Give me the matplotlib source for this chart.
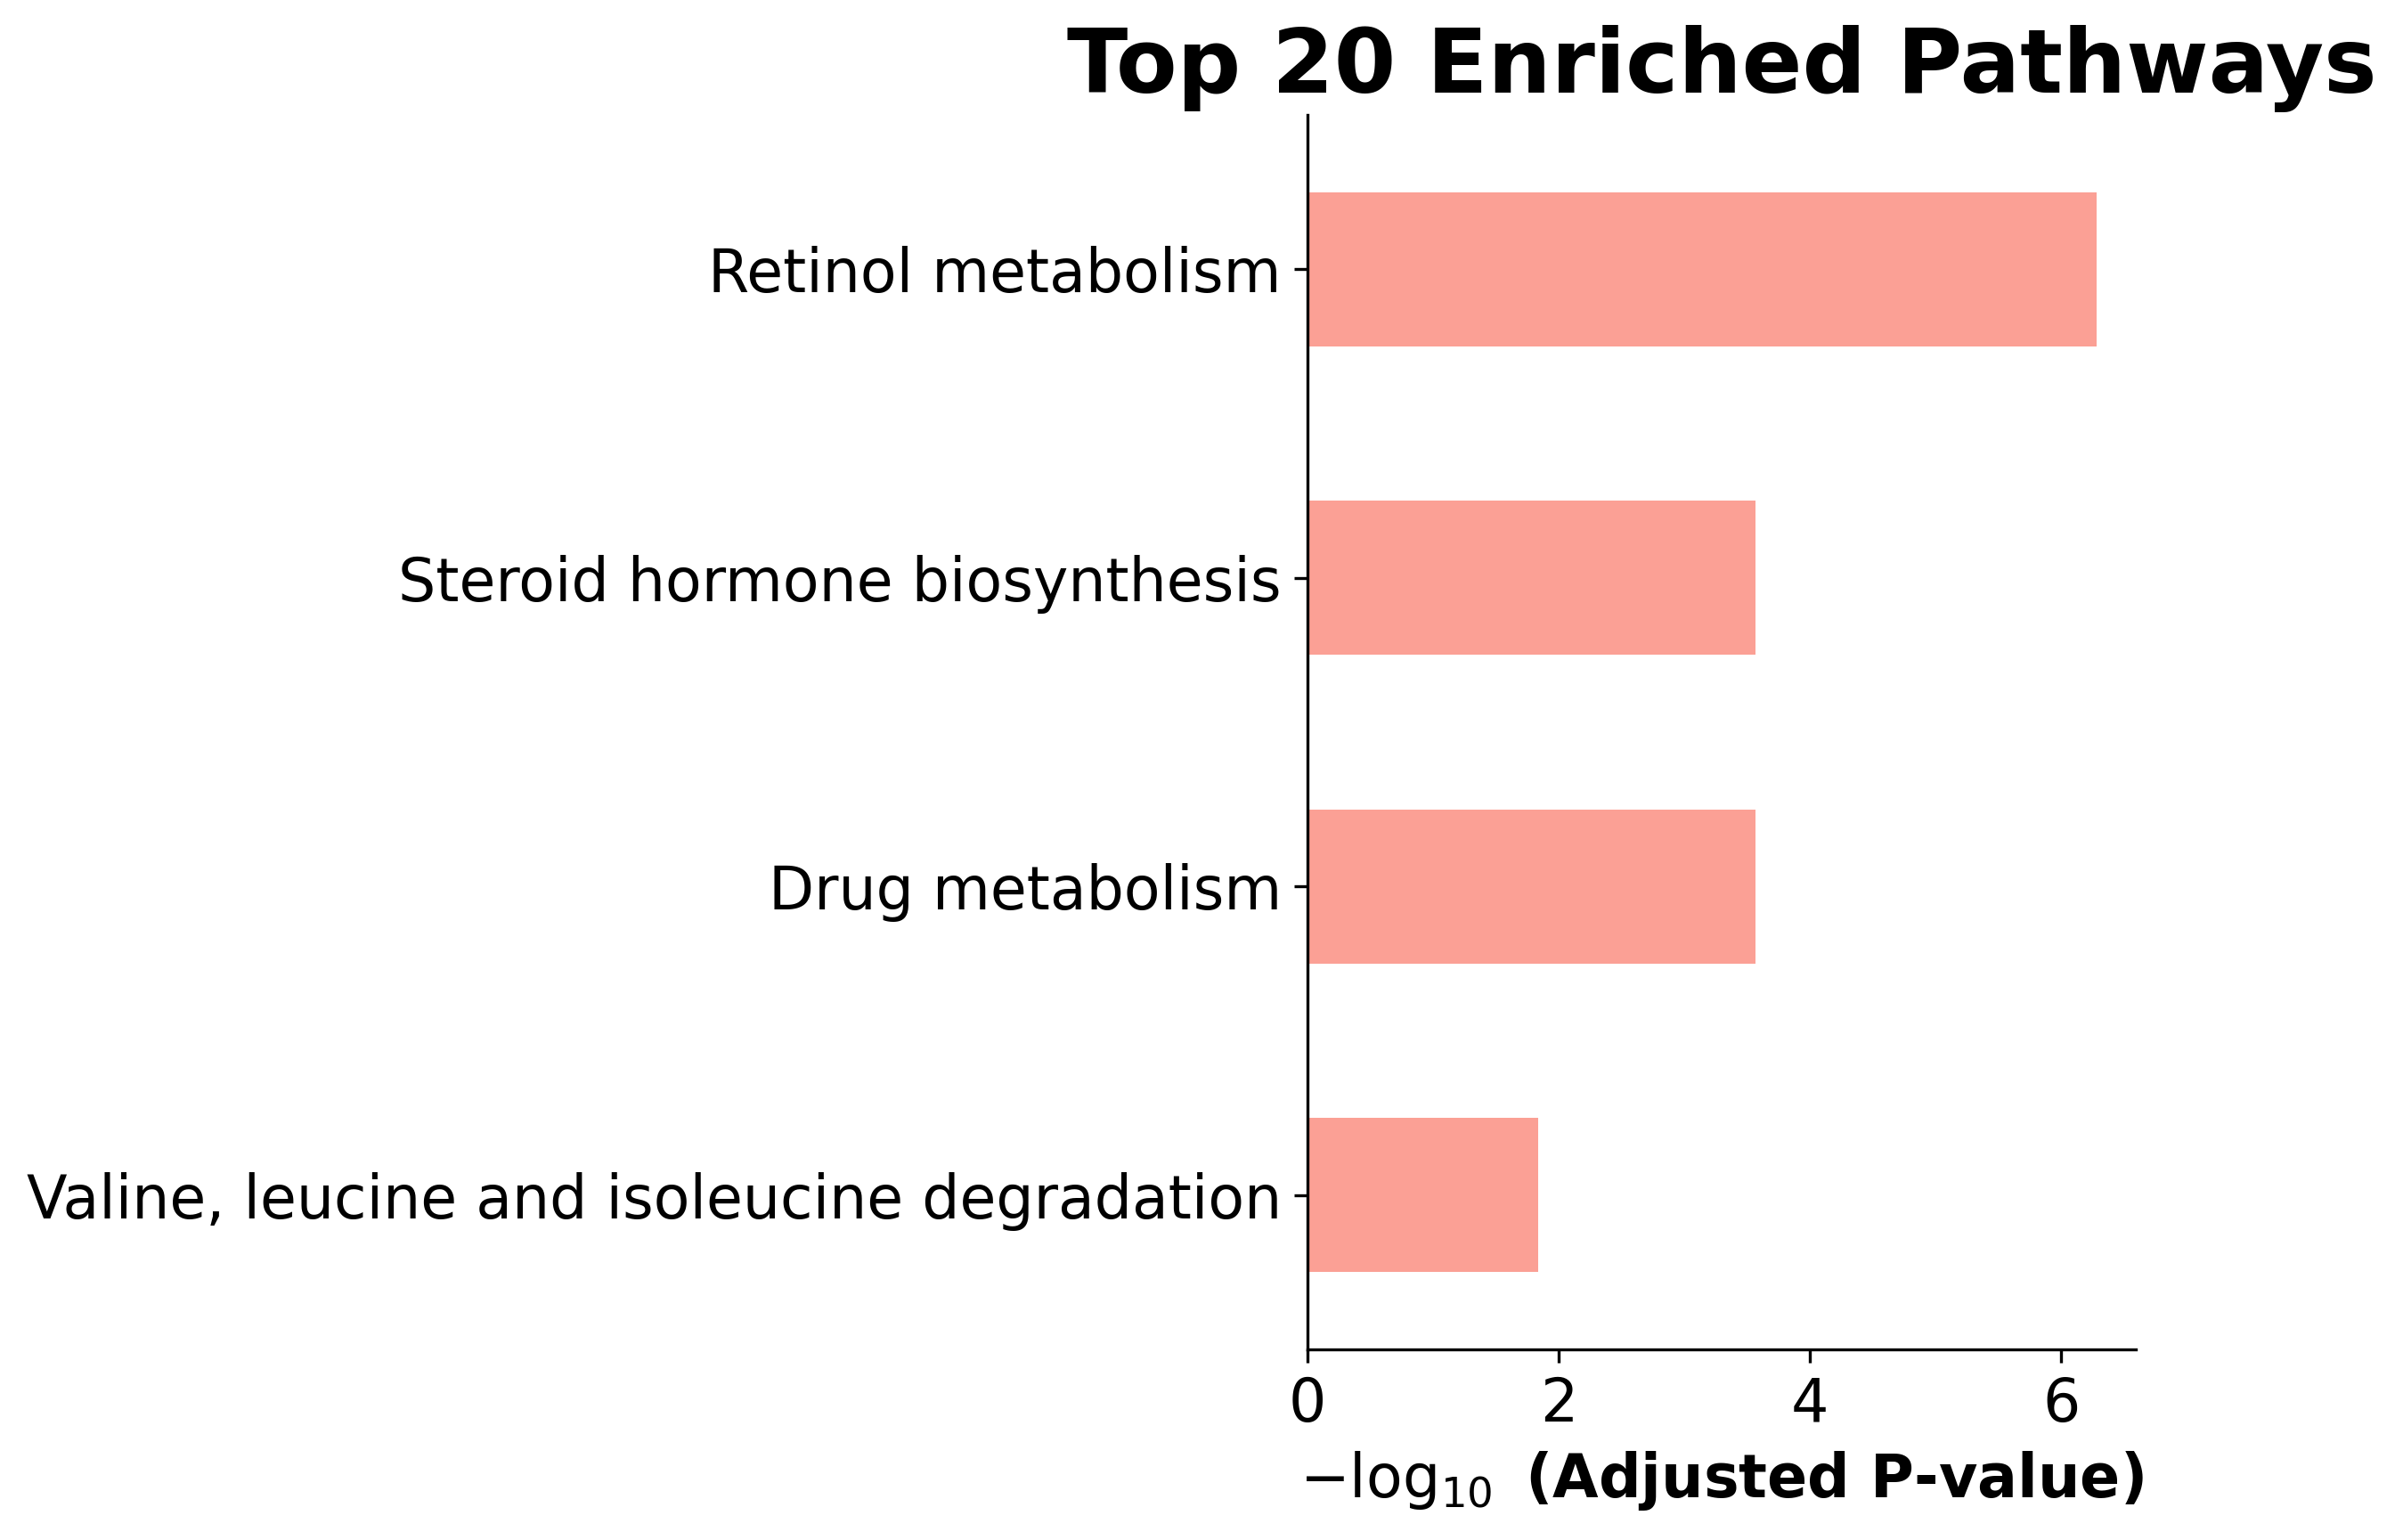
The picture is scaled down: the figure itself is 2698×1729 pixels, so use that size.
import numpy as np
import matplotlib.pyplot as plt

# pathways, bottom to top (plotted in order, so the largest ends on top)
pathways = [
    "Valine, leucine and isoleucine degradation",
    "Drug metabolism",
    "Steroid hormone biosynthesis",
    "Retinol metabolism",
]
neg_log_p = [1.84, 3.57, 3.57, 6.28]

fig = plt.figure(figsize=(2698 / 300, 1729 / 300), dpi=300)
ax = fig.add_axes([0.5441, 0.1238, 0.3447, 0.8016])

pos = np.arange(len(pathways))
ax.barh(pos, neg_log_p, height=0.5, color="salmon", alpha=0.75)

ax.set_yticks(pos)
ax.set_yticklabels(pathways)
ax.set_ylim(-0.5, len(pathways) - 0.5)
ax.set_xticks([0, 2, 4, 6])
ax.tick_params(labelsize=16)

ax.set_xlabel(r"$-\log_{10}$ (Adjusted P-value)", fontsize=16, fontweight="bold")
ax.set_title("Top 20 Enriched Pathways", fontsize=24, fontweight="bold")

ax.spines["top"].set_visible(False)
ax.spines["right"].set_visible(False)

fig.savefig("out.png", dpi=300)
